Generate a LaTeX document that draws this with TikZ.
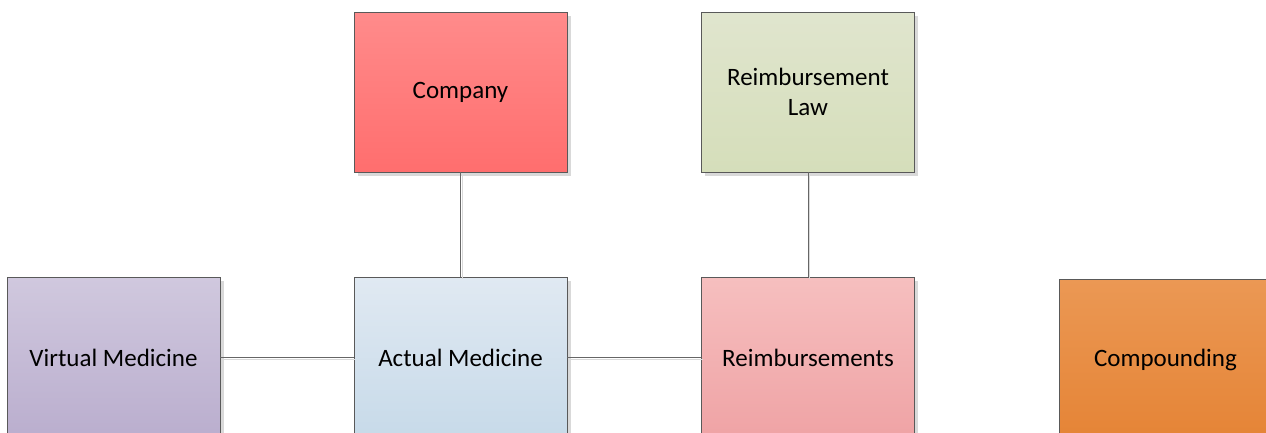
\documentclass[tikz,border=0pt]{standalone}
\usepackage{fontspec}
\setmainfont{Carlito}
\usetikzlibrary{shadows}
\definecolor{edgegray}{HTML}{595959}
\definecolor{linkgray}{HTML}{666666}
\definecolor{shadowgray}{HTML}{D9D9D9}
\definecolor{companytop}{RGB}{255,139,139}
\definecolor{companybot}{RGB}{255,110,110}
\definecolor{lawtop}{RGB}{224,229,206}
\definecolor{lawbot}{RGB}{213,222,186}
\definecolor{virttop}{RGB}{208,200,222}
\definecolor{virtbot}{RGB}{186,174,206}
\definecolor{acttop}{RGB}{224,233,242}
\definecolor{actbot}{RGB}{199,218,233}
\definecolor{reimtop}{RGB}{246,191,191}
\definecolor{reimbot}{RGB}{239,163,165}
\definecolor{comptop}{RGB}{235,152,84}
\definecolor{compbot}{RGB}{229,132,54}
\tikzset{
  box/.style={rectangle, draw=edgegray, line width=0.9pt,
    minimum width=213pt, minimum height=160pt, inner sep=0pt,
    align=center, font=\fontsize{25}{30}\selectfont,
    drop shadow={shadow xshift=3.5pt, shadow yshift=-3.5pt, fill=shadowgray, opacity=1}},
  link/.style={draw=linkgray, line width=0.9pt,
    preaction={draw=shadowgray, line width=0.9pt, transform canvas={xshift=1.5pt, yshift=-1.5pt}}}
}
\begin{document}
\begin{tikzpicture}[x=1pt,y=-1pt]
  \useasboundingbox (0,0) rectangle (1266,432);
  \clip (0,0) rectangle (1266,432);
  % top row
  \node[box, top color=companytop, bottom color=companybot] (company) at (460.5,92) {Company};
  \node[box, top color=lawtop, bottom color=lawbot] (law) at (808,92) {Reimbursement\\Law};
  % bottom row
  \node[box, top color=virttop, bottom color=virtbot] (virtual) at (113.5,357.5) {Virtual Medicine};
  \node[box, top color=acttop, bottom color=actbot] (actual) at (460.5,357.5) {Actual Medicine};
  \node[box, top color=reimtop, bottom color=reimbot] (reimb) at (808,357.5) {Reimbursements};
  \node[box, top color=comptop, bottom color=compbot] (compound) at (1165.5,359.5) {Compounding};
  % connectors
  \path[link] (company.south) -- (actual.north);
  \path[link] (law.south) -- (reimb.north);
  \path[link] (virtual.east) -- (actual.west);
  \path[link] (actual.east) -- (reimb.west);
\end{tikzpicture}
\end{document}
